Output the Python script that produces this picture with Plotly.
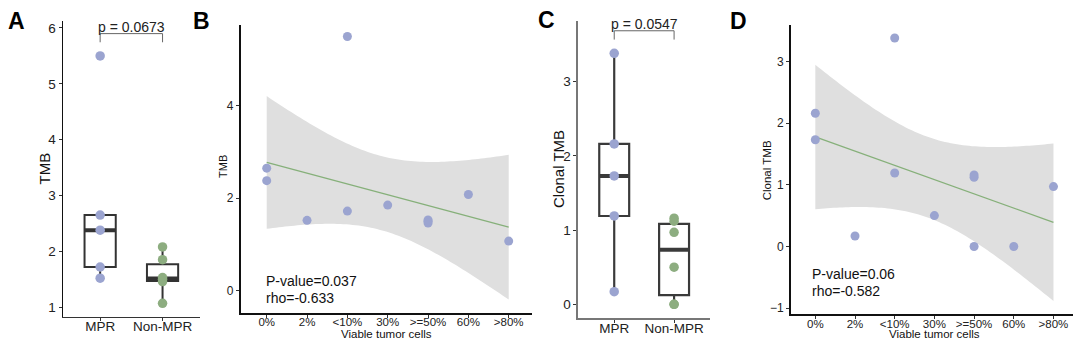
import numpy as np
import plotly.graph_objects as go

# ---------------- data ----------------
groups = ["MPR", "Non-MPR"]
viable_labels = ["0%", "2%", "<10%", "30%", ">=50%", "60%", ">80%"]
viable_idx = [1, 1, 2, 3, 3, 4, 5, 5, 5, 6, 7]          # 1-based category of each patient
patient_group = [0, 0, 0, 0, 0, 1, 1, 1, 1, 1, 1]       # 0 = MPR, 1 = Non-MPR
tmb = [2.65, 2.38, 1.52, 5.50, 1.72, 1.85, 1.53, 1.50, 1.46, 2.08, 1.07]
clonal_tmb = [2.16, 1.73, 0.17, 3.38, 1.19, 0.50, 1.16, 1.12, 0.00, 0.00, 0.97]
box_pvalues = ["p = 0.0673", "p = 0.0547"]
corr_texts = [("P-value=0.037", "rho=-0.633"), ("P-value=0.06", "rho=-0.582")]
panel_letters = ["A", "B", "C", "D"]
T975_DF9 = 2.262157  # t quantile for 95% CI (n-2 = 9 df)

# ---------------- style ----------------
FONT = "Liberation Sans, Arial, sans-serif"
BLUE = "#9BA4D0"
GREEN = "#8DAD80"
LINE_GREEN = "#86B07A"
BAND = "#DFDFDF"
BOX_LINE = "#333333"
W, H = 1080, 347

def px_x(p):
    return p / W

def px_y(p):
    return 1 - p / H

fig = go.Figure()

def tukey(vals):
    v = np.sort(np.asarray(vals, float))
    q1, med, q3 = np.percentile(v, [25, 50, 75])
    iqr = q3 - q1
    lo = v[v >= q1 - 1.5 * iqr].min()
    hi = v[v <= q3 + 1.5 * iqr].max()
    return q1, med, q3, lo, hi

def box_panel(values, xa, ya, line_col, line_w):
    vals = np.asarray(values, float)
    grp = np.asarray(patient_group)
    for g in range(2):
        gv = vals[grp == g]
        q1, med, q3, lo, hi = tukey(gv)
        fig.add_trace(go.Box(x=[g], q1=[q1], median=[med], q3=[q3],
                             lowerfence=[lo], upperfence=[hi], width=0.5,
                             fillcolor="white", whiskerwidth=0, boxpoints=False,
                             line=dict(color=line_col, width=line_w),
                             xaxis=xa, yaxis=ya, hoverinfo="skip"))
        fig.add_trace(go.Scatter(x=[g - 0.25, g + 0.25], y=[med, med], mode="lines",
                                 line=dict(color=line_col, width=4),
                                 xaxis=xa, yaxis=ya, hoverinfo="skip"))
    for g, col in ((0, BLUE), (1, GREEN)):
        gv = vals[grp == g]
        fig.add_trace(go.Scatter(x=[g] * len(gv), y=gv, mode="markers",
                                 marker=dict(color=col, size=9.5),
                                 xaxis=xa, yaxis=ya, hoverinfo="skip"))
    # significance bracket derived from data
    rng = vals.max() - vals.min()
    top = vals.max() + 0.09 * rng
    tip = top - 0.035 * rng
    fig.add_trace(go.Scatter(x=[0, 0, 1, 1], y=[tip, top, top, tip], mode="lines",
                             line=dict(color="#666666", width=1),
                             xaxis=xa, yaxis=ya, hoverinfo="skip"))
    return top

def lm_panel(values, xa, ya):
    x = np.asarray(viable_idx, float)
    y = np.asarray(values, float)
    n = len(x)
    xm, ym = x.mean(), y.mean()
    sxx = ((x - xm) ** 2).sum()
    b = ((x - xm) * (y - ym)).sum() / sxx
    a = ym - b * xm
    s = np.sqrt(((y - (a + b * x)) ** 2).sum() / (n - 2))
    grid = np.linspace(x.min(), x.max(), 80)
    fit = a + b * grid
    se = s * np.sqrt(1 / n + (grid - xm) ** 2 / sxx)
    up, lo = fit + T975_DF9 * se, fit - T975_DF9 * se
    fig.add_trace(go.Scatter(x=np.concatenate([grid, grid[::-1]]),
                             y=np.concatenate([up, lo[::-1]]),
                             fill="toself", fillcolor=BAND, mode="none",
                             xaxis=xa, yaxis=ya, hoverinfo="skip"))
    fig.add_trace(go.Scatter(x=grid, y=fit, mode="lines",
                             line=dict(color=LINE_GREEN, width=1.3),
                             xaxis=xa, yaxis=ya, hoverinfo="skip"))
    fig.add_trace(go.Scatter(x=x, y=y, mode="markers",
                             marker=dict(color=BLUE, size=9),
                             xaxis=xa, yaxis=ya, hoverinfo="skip"))

topA = box_panel(tmb, "x", "y", BOX_LINE, 2)
lm_panel(tmb, "x2", "y2")
topC = box_panel(clonal_tmb, "x3", "y3", "#3a3a3a", 2.2)
lm_panel(clonal_tmb, "x4", "y4")

def ax(domain, rng, **kw):
    d = dict(domain=domain, range=rng, showgrid=False, zeroline=False,
             showline=True, ticks="outside", ticklen=3, tickwidth=1,
             tickcolor="#333333", fixedrange=True)
    d.update(kw)
    return d

tick_big = dict(family=FONT, size=13.5, color="#222222")
tick_small = dict(family=FONT, size=11.5, color="#222222")

layout = dict(
    width=W, height=H, margin=dict(l=0, r=0, t=0, b=0),
    paper_bgcolor="white", plot_bgcolor="white", showlegend=False,
    xaxis=ax([px_x(62.7), px_x(200)], [-0.6, 1.6], anchor="y",
             tickvals=[0, 1], ticktext=groups, tickfont=tick_big, ticklabelstandoff=-6,
             linecolor="#333333", linewidth=1.4),
    yaxis=ax([px_y(316.7), px_y(20.7)], [0.83, 6.13], anchor="x",
             tickvals=[1, 2, 3, 4, 5, 6], tickfont=tick_big,
             linecolor="#111111", linewidth=1.4),
    xaxis2=ax([px_x(240.7), px_x(531.7)], [0.355, 7.57], anchor="y2",
              tickvals=list(range(1, 8)), ticktext=viable_labels, tickfont=tick_small,
              ticklabelstandoff=-5, linecolor="#111111", linewidth=1.8),
    yaxis2=ax([px_y(312.7), px_y(25)], [-0.48, 5.75], anchor="x2",
              tickvals=[0, 2, 4], tickfont=dict(family=FONT, size=12, color="#222222"),
              linecolor="#111111", linewidth=1.8),
    xaxis3=ax([px_x(578.3), px_x(710)], [-0.6, 1.6], anchor="y3",
              tickvals=[0, 1], ticktext=groups, tickfont=tick_big, ticklabelstandoff=-6,
              linecolor="#777777", linewidth=1.8),
    yaxis3=ax([px_y(317.7), px_y(20.7)], [-0.18, 3.82], anchor="x3",
              tickvals=[0, 1, 2, 3], tickfont=tick_big,
              linecolor="#777777", linewidth=1.8),
    xaxis4=ax([px_x(791), px_x(1073.3)], [0.387, 7.5], anchor="y4",
              tickvals=list(range(1, 8)), ticktext=viable_labels, tickfont=tick_small,
              ticklabelstandoff=-5, linecolor="#111111", linewidth=1.8),
    yaxis4=ax([px_y(314.3), px_y(25)], [-1.1, 3.59], anchor="x4",
              tickvals=[-1, 0, 1, 2, 3], tickfont=dict(family=FONT, size=12, color="#222222"),
              linecolor="#111111", linewidth=1.8),
)

ann = []
# panel letters
for letter, (cx, cy) in zip(panel_letters, [(16, 21), (201.5, 21), (546.5, 20), (738, 20.5)]):
    ann.append(dict(text=f"<b>{letter}</b>", x=px_x(cx), y=px_y(cy), xref="paper", yref="paper",
                    xanchor="center", yanchor="middle", showarrow=False,
                    font=dict(family=FONT, size=23, color="black")))
# p-values above brackets
ann.append(dict(text=box_pvalues[0], x=0.5, y=topA, xref="x", yref="y", xanchor="center",
                yanchor="bottom", yshift=-3, showarrow=False,
                font=dict(family=FONT, size=14, color="#222222")))
ann.append(dict(text=box_pvalues[1], x=0.5, y=topC, xref="x3", yref="y3", xanchor="center",
                yanchor="bottom", yshift=-3, showarrow=False,
                font=dict(family=FONT, size=14, color="#222222")))
# correlation stats
for (pv, rho), (lx, y1, y2) in zip(corr_texts, [(264.3, 281, 297.5), (810, 273.5, 291)]):
    for t, yy in ((pv, y1), (rho, y2)):
        ann.append(dict(text=t, x=px_x(lx), y=px_y(yy), xref="paper", yref="paper",
                        xanchor="left", yanchor="middle", showarrow=False,
                        font=dict(family=FONT, size=14, color="#111111")))
# axis titles
for t, cx, cy, sz in (("TMB", 43.5, 169, 15), ("TMB", 223, 167, 11),
                      ("Clonal TMB", 558, 169, 15), ("Clonal TMB", 767.3, 170, 11.5)):
    ann.append(dict(text=t, x=px_x(cx), y=px_y(cy), xref="paper", yref="paper",
                    xanchor="center", yanchor="middle", textangle=-90, showarrow=False,
                    font=dict(family=FONT, size=sz, color="#111111")))
for cx in (386, 934):
    ann.append(dict(text="Viable tumor cells", x=px_x(cx), y=px_y(334), xref="paper", yref="paper",
                    xanchor="center", yanchor="middle", showarrow=False,
                    font=dict(family=FONT, size=11.5, color="#111111")))
layout["annotations"] = ann
fig.update_layout(**layout)
fig.write_html("out.html")
